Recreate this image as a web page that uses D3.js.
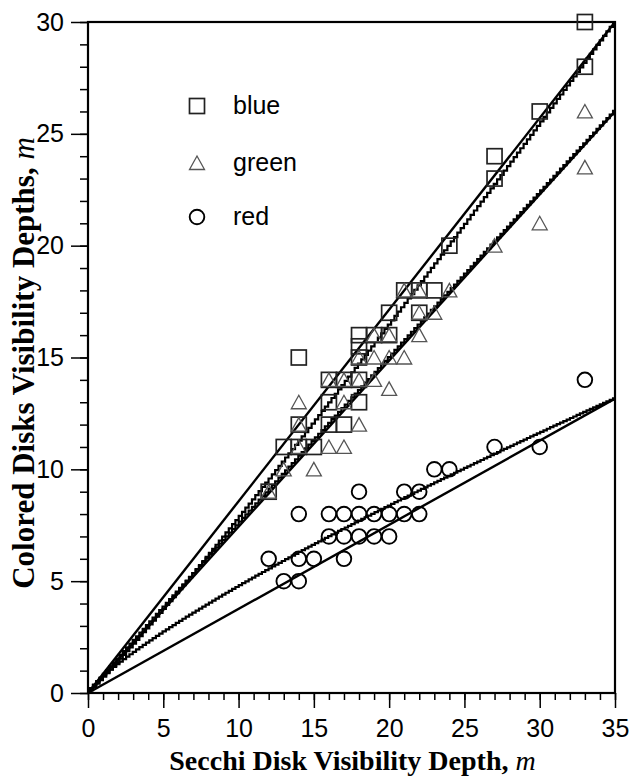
<!DOCTYPE html>
<html>
<head>
<meta charset="utf-8">
<script src="https://cdn.jsdelivr.net/npm/d3@7"></script>
<style>
  body { margin: 0; background: #fff; }
  .tick text { font-family: "Liberation Sans", Arial, sans-serif; font-size: 25px; fill: #000; }
  .tick line { stroke: #000; stroke-width: 1.5; }
  .axis-title { font-family: "Liberation Serif", "Times New Roman", serif; font-weight: bold; font-size: 28px; }
  .legend text { font-family: "Liberation Sans", Arial, sans-serif; font-size: 25px; }
</style>
</head>
<body>
<div id="chart"></div>
<script>
// Secchi depth (m) vs colored disk visibility depth (m)
const bluePoints = [
  [12, 9], [13, 11], [14, 11], [15, 11], [14, 12], [16, 12], [17, 12],
  [16, 13], [18, 13], [16, 14], [17, 14], [18, 14], [14, 15], [18, 15],
  [18, 15.5], [18, 16], [19, 16], [20, 16], [20, 17], [22, 17], [21, 18],
  [22, 18], [23, 18], [24, 20], [27, 23], [27, 24], [30, 26], [33, 28], [33, 30]
];
const greenPoints = [
  [12, 9], [13, 10], [15, 10], [14, 11], [16, 11], [17, 11], [14, 12],
  [18, 12], [14, 13], [17, 13], [20, 13.6], [16, 14], [17, 14], [18, 14],
  [19, 14], [18, 15], [19, 15], [20, 15], [21, 15], [19, 16], [20, 16],
  [22, 16], [22, 17], [23, 17], [21, 18], [22, 18], [24, 18], [27, 20],
  [30, 21], [33, 23.5], [33, 26]
];
const redPoints = [
  [12, 6], [13, 5], [14, 5], [14, 6], [14, 8], [15, 6], [16, 7], [16, 8],
  [17, 6], [17, 7], [17, 8], [18, 7], [18, 8], [18, 9], [19, 7], [19, 8],
  [20, 7], [20, 8], [21, 8], [21, 9], [22, 8], [22, 9], [23, 10], [24, 10],
  [27, 11], [30, 11], [33, 14]
];

const seriesNames = ["blue", "green", "red"];
// fitted lines through the origin: y = slope * x
const linearSlopes = [0.857, 0.743, 0.376];
// fitted power curves: y = a * x^b
const powerA = [0.659, 0.782, 0.74];
const powerB = [1.074, 0.986, 0.81];

const xMajorTicks = [0, 5, 10, 15, 20, 25, 30, 35];
const yMajorTicks = [0, 5, 10, 15, 20, 25, 30];

const width = 631;
const height = 777;
const margin = { top: 22, right: 16, bottom: 84, left: 88 };

const svg = d3.select("#chart").append("svg")
  .attr("width", width)
  .attr("height", height);

const x = d3.scaleLinear().domain([0, 35])
  .range([margin.left, width - margin.right]);
const y = d3.scaleLinear().domain([0, 30])
  .range([height - margin.bottom, margin.top]);

// minor ticks
svg.append("g")
  .attr("transform", `translate(0,${y(0)})`)
  .call(d3.axisBottom(x).tickValues(d3.range(0, 36, 1)).tickSize(7).tickSizeOuter(0).tickFormat(""))
  .call((g) => g.select(".domain").remove());
svg.append("g")
  .attr("transform", `translate(${x(0)},0)`)
  .call(d3.axisLeft(y).tickValues(d3.range(0, 31, 1)).tickSize(8).tickSizeOuter(0).tickFormat(""))
  .call((g) => g.select(".domain").remove());

// major ticks
svg.append("g")
  .attr("transform", `translate(0,${y(0)})`)
  .call(d3.axisBottom(x).tickValues(xMajorTicks).tickSize(15).tickPadding(11).tickSizeOuter(0))
  .call((g) => g.select(".domain").remove());
svg.append("g")
  .attr("transform", `translate(${x(0)},0)`)
  .call(d3.axisLeft(y).tickValues(yMajorTicks).tickSize(17).tickPadding(7).tickSizeOuter(0))
  .call((g) => g.select(".domain").remove());

svg.selectAll(".tick text").attr("font-family", null).attr("font-size", null);

// frame
svg.append("rect")
  .attr("x", x(0))
  .attr("y", y(30))
  .attr("width", x(35) - x(0))
  .attr("height", y(0) - y(30))
  .attr("fill", "none")
  .attr("stroke", "#000")
  .attr("stroke-width", 2.2);

// fit lines
const plot = svg.append("g");
const line = d3.line().x((d) => x(d[0])).y((d) => y(d[1]));
const stepLine = d3.line().x((d) => x(d[0])).y((d) => y(d[1])).curve(d3.curveStep);

linearSlopes.forEach((s) => {
  plot.append("path")
    .attr("d", line([[0, 0], [35, 35 * s]]))
    .attr("fill", "none")
    .attr("stroke", "#000")
    .attr("stroke-width", 2.4);
});

powerA.forEach((a, i) => {
  const xs = d3.range(0, 35.001, 0.22);
  plot.append("path")
    .attr("d", stepLine(xs.map((v) => [v, a * Math.pow(v, powerB[i])])))
    .attr("fill", "none")
    .attr("stroke", "#000")
    .attr("stroke-width", 2.2);
});

// markers
const square = (g, cx, cy) => g.append("rect")
  .attr("x", cx - 7.5).attr("y", cy - 7.5).attr("width", 15).attr("height", 15)
  .attr("fill", "none").attr("stroke", "#222").attr("stroke-width", 1.7);
const triangle = (g, cx, cy) => g.append("path")
  .attr("d", `M${cx - 7.5},${cy + 6.5} L${cx + 7.5},${cy + 6.5} L${cx},${cy - 7} Z`)
  .attr("fill", "none").attr("stroke", "#555").attr("stroke-width", 1.3);
const circle = (g, cx, cy) => g.append("circle")
  .attr("cx", cx).attr("cy", cy).attr("r", 7.3)
  .attr("fill", "none").attr("stroke", "#000").attr("stroke-width", 1.9);

const markers = [square, triangle, circle];
[bluePoints, greenPoints, redPoints].forEach((pts, i) => {
  const g = plot.append("g").attr("class", `series-${seriesNames[i]}`);
  pts.forEach((d) => markers[i](g, x(d[0]), y(d[1])));
});

// legend
const legend = svg.append("g").attr("class", "legend");
const legendY = [106, 163, 217];
seriesNames.forEach((name, i) => {
  markers[i](legend, 197, legendY[i]);
  legend.append("text")
    .attr("x", 233)
    .attr("y", legendY[i])
    .attr("dy", "0.32em")
    .text(name);
});

// axis titles
const xTitle = svg.append("text")
  .attr("class", "axis-title")
  .attr("x", (x(0) + x(35)) / 2 + 1)
  .attr("y", 770)
  .attr("text-anchor", "middle");
xTitle.append("tspan").text("Secchi Disk Visibility Depth, ");
xTitle.append("tspan").attr("font-style", "italic").attr("font-weight", "normal").text("m");

const yTitle = svg.append("text")
  .attr("class", "axis-title")
  .style("font-size", "31px")
  .attr("transform", `translate(34,363) rotate(-90)`)
  .attr("text-anchor", "middle");
yTitle.append("tspan").text("Colored Disks Visibility Depths, ");
yTitle.append("tspan").attr("font-style", "italic").attr("font-weight", "normal").text("m");
</script>
</body>
</html>
